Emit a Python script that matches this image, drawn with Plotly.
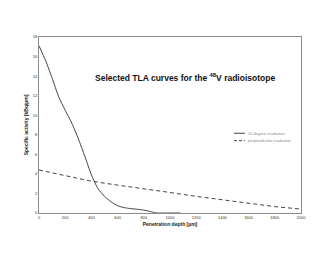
import plotly.graph_objects as go

# Data
depth_20deg = [0, 50, 100, 150, 200, 250, 300, 350, 400, 450, 500, 550, 600, 650, 700, 750, 800, 850, 880, 900, 1000, 1080]
activity_20deg = [17.1, 15.6, 13.8, 11.9, 10.5, 9.2, 7.6, 5.8, 3.9, 2.5, 1.7, 1.15, 0.75, 0.55, 0.45, 0.38, 0.3, 0.15, 0.05, 0.0, 0.0, 0.0]

depth_perp = [0, 200, 400, 600, 800, 1000, 1200, 1400, 1600, 1800, 2000]
activity_perp = [4.4, 3.85, 3.25, 2.85, 2.5, 2.1, 1.7, 1.35, 0.97, 0.65, 0.4]

x_ticks = [0, 200, 400, 600, 800, 1000, 1200, 1400, 1600, 1800, 2000]
y_ticks = [0, 2, 4, 6, 8, 10, 12, 14, 16, 18]

series_names = ["20 degree irradiation", "perpendicular irradiation"]
series_dash = ["solid", "4px,3px"]

font_family = "Liberation Sans"
line_color = "#444444"

fig = go.Figure()
fig.add_trace(go.Scatter(
    x=depth_20deg, y=activity_20deg, mode="lines", name=series_names[0],
    line=dict(color=line_color, width=1, shape="spline", smoothing=0.6, dash=series_dash[0]),
    showlegend=False,
))
fig.add_trace(go.Scatter(
    x=depth_perp, y=activity_perp, mode="lines", name=series_names[1],
    line=dict(color=line_color, width=1, dash=series_dash[1]),
    showlegend=False,
))

axis_common = dict(
    showgrid=False, zeroline=False, showline=True, linecolor="#8c8c8c", linewidth=1,
    mirror=True, ticks="", automargin=False,
    tickfont=dict(size=4, color="#333333", family=font_family),
)

# Legend drawn as small line samples + labels (plot-area paper coordinates)
legend_y = [0.453, 0.411]
for name, dash, ly in zip(series_names, series_dash, legend_y):
    fig.add_shape(type="line", xref="paper", yref="paper", x0=0.744, x1=0.786, y0=ly, y1=ly,
                  line=dict(color=line_color, width=1, dash="3px,2px" if dash != "solid" else "solid"))
    fig.add_annotation(text=name, xref="paper", yref="paper", x=0.79, y=ly,
                       xanchor="left", yanchor="middle", showarrow=False,
                       font=dict(size=4, family=font_family, color="#8a8a8a"))

# The page body adds an 8px offset, so the figure is 8px smaller than the window
fig.update_layout(
    width=322, height=247,
    margin=dict(l=31, r=29, t=29, b=42),
    paper_bgcolor="white", plot_bgcolor="white",
    font=dict(family=font_family, color="#222222"),
    showlegend=False,
    title=dict(
        text="Selected TLA curves for the <sup>48</sup>V radioisotope",
        x=0.55, xanchor="center", y=0.717, yanchor="middle",
        font=dict(size=8.5, family=font_family, color="#111111", weight="bold"),
    ),
    xaxis=dict(
        range=[0, 2000], tickvals=x_ticks, ticktext=[str(v) for v in x_ticks],
        title=dict(text="Penetration depth [µm]", standoff=3,
                   font=dict(size=5, family=font_family, weight="bold")),
        **axis_common,
    ),
    yaxis=dict(
        range=[0, 18], tickvals=y_ticks, ticktext=[str(v) for v in y_ticks],
        title=dict(text="Specific activity [kBq/µm]", standoff=3,
                   font=dict(size=5, family=font_family, weight="bold")),
        **axis_common,
    ),
)

fig.write_html("out.html")
